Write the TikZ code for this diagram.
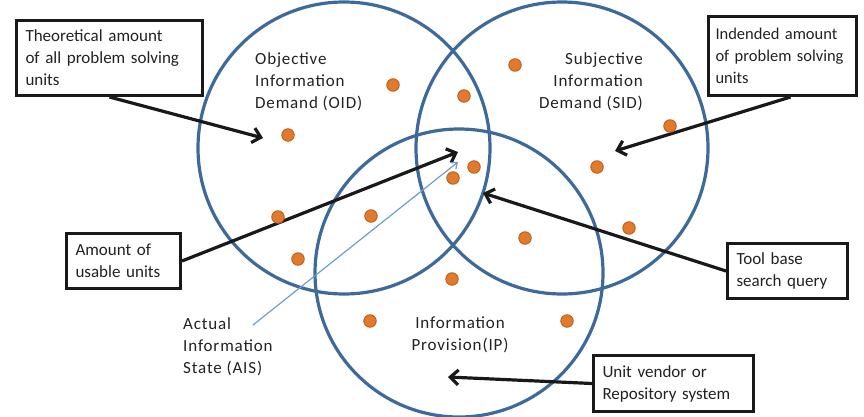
\documentclass[tikz,border=0pt]{standalone}
\usepackage{fontspec}
\setmainfont{Carlito}
\usetikzlibrary{arrows.meta,shadows}
\definecolor{ringblue}{HTML}{3D6A9A}
\definecolor{dotfill}{HTML}{E07B2E}
\definecolor{dotedge}{HTML}{B8601E}
\definecolor{aisblue}{HTML}{6F9CD2}
\definecolor{txt}{HTML}{222222}
\newcommand\nohyphens{\hyphenpenalty=10000\relax\exhyphenpenalty=10000\relax}
\begin{document}
\begin{tikzpicture}[x=1pt,y=-1pt,
  ring/.style={circle,draw=ringblue,line width=3.2pt,inner sep=0},
  dot/.style={circle,fill=dotfill,draw=dotedge,line width=0.9pt,minimum size=12.5pt,inner sep=0},
  callout/.style={draw=black!90,line width=3pt,fill=white,align=left,inner xsep=9pt,inner ysep=0,
    font=\fontsize{17}{22}\selectfont,text=txt,execute at begin node=\nohyphens,
    drop shadow={shadow xshift=1.5pt,shadow yshift=-1.5pt,opacity=0.35}},
  lbl/.style={inner sep=0,font=\fontsize{17}{22}\selectfont\addfontfeature{LetterSpace=5},text=txt},
  pointer/.style={line width=3.2pt,black!90,-{Straight Barb[length=8pt,width=15pt]}},
  thinpointer/.style={line width=1.2pt,aisblue,-{Straight Barb[length=5pt,width=8pt]}},
]
\useasboundingbox (0,0) rectangle (864,417);
% circles
\node[ring,minimum size=292pt] (oid) at (344,148) {};
\node[ring,minimum size=292pt] (sid) at (562,148) {};
\node[ring,minimum size=288pt] (ip) at (459,273) {};
% labels
\node[lbl,align=left,anchor=north west] (loid) at (255,52) {Objective\\Information\\Demand (OID)};
\node[lbl,align=right,anchor=north east] (lsid) at (643,52) {Subjective\\Information\\Demand (SID)};
\node[lbl,align=left,anchor=north west] (lais) at (183,317) {Actual\\Information\\State (AIS)};
\node[lbl,align=center,anchor=north] (lip) at (460,317) {Information\\Provision(IP)};
% callout boxes
\node[callout,minimum width=186pt,minimum height=75pt,text width=168pt] (b1) at (109.5,58) {Theoretical amount\\of all problem solving\\units};
\node[callout,minimum width=148pt,minimum height=79pt,text width=134pt,inner xsep=7pt,font=\fontsize{16.5}{22}\selectfont] (b2) at (782.5,56) {\mbox{Indended amount}\\\mbox{of problem solving}\\units};
\node[callout,minimum width=114pt,minimum height=55pt,text width=96pt] (b3) at (123.5,261) {Amount of\\usable units};
\node[callout,minimum width=120pt,minimum height=55pt,text width=102pt] (b4) at (787.5,271) {Tool base\\search query};
\node[callout,minimum width=160pt,minimum height=56pt,text width=142pt] (b5) at (673.5,383.5) {Unit vendor or\\Repository system};
% arrow tips
\coordinate (t1) at (263,138);
\coordinate (t2) at (615,151);
\coordinate (t3) at (458,152);
\coordinate (t4) at (483,193);
\coordinate (t5) at (448,377);
\coordinate (t6) at (458,162);
\coordinate (s6) at (253,325);
\draw[pointer] (b1.south) -- (t1);
\draw[pointer] ([xshift=8pt]b2.south) -- (t2);
\draw[pointer] (b3.east) -- (t3);
\draw[pointer] (b4.west) -- (t4);
\draw[pointer] (b5.west) -- (t5);
\draw[thinpointer] (s6) -- (t6);
% dots
\foreach \p [count=\i] in {(288,135),(393,85),(464,96),(515,65),(670,126),(597,167),(474,167),(453,178),(278,217),(371,216),(298,259),(525,238),(629,228),(452,279),(370,321),(567,321)}
  \node[dot] (d\i) at \p {};
\end{tikzpicture}
\end{document}
